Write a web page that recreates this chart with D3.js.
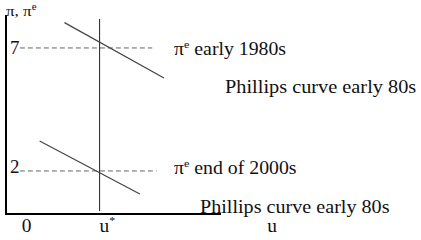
<!DOCTYPE html>
<html>
<head>
<meta charset="utf-8">
<script src="https://cdn.jsdelivr.net/npm/d3@7"></script>
<style>
  html, body { margin: 0; padding: 0; background: #fff; }
  svg { display: block; }
</style>
</head>
<body>
<div class="graphic"></div>
<script>
// natural rate and the two expected-inflation levels
var uStar = 5;
var piLevels = [7, 2];
var piLevelLabels = ["early 1980s", "end of 2000s"];
var dashEnds = [8.6, 8.9];
var curveLabels = ["Phillips curve early 80s", "Phillips curve early 80s"];

// short-run Phillips curves, [u, pi] end points
var curve80s = [[2.6, 8.03], [9.4, 5.78]];
var curve00s = [[0.9, 3.22], [7.75, 1.06]];
var uStarSpan = [0.37, 8.18];

var width = 421, height = 240;
var font = "Liberation Serif";

var x = d3.scaleLinear().domain([-1.4, 13.3]).range([6, 221]);
var y = d3.scaleLinear().domain([0.25, 8.34]).range([214, 15]);

var svg = d3.select(".graphic")
    .append("svg")
    .attr("width", width)
    .attr("height", height);

// glyphs in the source are a bit wide, so stretch each label horizontally
function label(g, px, py, size, stretch, anchor) {
    return g.append("text")
        .attr("transform", "translate(" + px + "," + py + ") scale(" + stretch + ",1)")
        .attr("font-family", font)
        .attr("font-size", size)
        .attr("fill", "#111")
        .attr("text-anchor", anchor || "start");
}

// dashed expectation lines
svg.append("g")
    .selectAll("line")
    .data(piLevels)
    .join("line")
    .attr("x1", x(-0.45))
    .attr("x2", (d, i) => x(dashEnds[i]))
    .attr("y1", d => y(d))
    .attr("y2", d => y(d))
    .attr("stroke", "#666")
    .attr("stroke-width", 1)
    .attr("stroke-dasharray", "5,3");

// u* vertical
svg.append("line")
    .attr("x1", x(uStar)).attr("x2", x(uStar))
    .attr("y1", y(uStarSpan[0])).attr("y2", y(uStarSpan[1]))
    .attr("stroke", "#222")
    .attr("stroke-width", 1);

// Phillips curves
var line = d3.line().x(d => x(d[0])).y(d => y(d[1]));
svg.append("g")
    .selectAll("path")
    .data([curve80s, curve00s])
    .join("path")
    .attr("d", line)
    .attr("fill", "none")
    .attr("stroke", "#444")
    .attr("stroke-width", 1.2);

// axes
svg.append("line")
    .attr("x1", x.range()[0]).attr("x2", x.range()[0])
    .attr("y1", y.range()[1]).attr("y2", y.range()[0] + 1)
    .attr("stroke", "#000").attr("stroke-width", 2);
svg.append("line")
    .attr("x1", x.range()[0]).attr("x2", x.range()[1])
    .attr("y1", y.range()[0]).attr("y2", y.range()[0])
    .attr("stroke", "#000").attr("stroke-width", 2);

// text sits a little lower beside the upper line than the lower one
var baseOff = [6, 2];

// level ticks (7, 2)
var yTicks = svg.append("g");
piLevels.forEach(function (d, i) {
    label(yTicks, x(-0.45) - 0.5, y(d) + baseOff[i], 18, 1.05, "end").text(d);
});

// x ticks
label(svg, x(0), 232, 18, 1.08, "middle").text("0");
var us = label(svg, x(uStar), 232, 18, 1.08, "start");
us.append("tspan").text("u");
us.append("tspan").attr("font-size", 11).attr("dy", -8).text("*");
label(svg, 272, 232, 18, 1.08, "middle").text("u");

// axis title
var t = label(svg, 6, 16, 15.5, 1.1, "start");
t.append("tspan").text("\u03c0, \u03c0");
t.append("tspan").attr("font-size", 10).attr("dy", -6).text("e");

// pi^e labels
piLevels.forEach(function (d, i) {
    var l = label(svg, 174, y(d) + baseOff[i] + 1, 18, 1.1, "start");
    l.append("tspan").text("\u03c0");
    l.append("tspan").attr("font-size", 11).attr("dy", -7).text("e");
    l.append("tspan").attr("dy", 7).text(" " + piLevelLabels[i]);
});

// curve labels
label(svg, 225, 93, 19, 1.07, "start").text(curveLabels[0]);
label(svg, 200, 212.5, 19, 1.06, "start").text(curveLabels[1]);
</script>
</body>
</html>
